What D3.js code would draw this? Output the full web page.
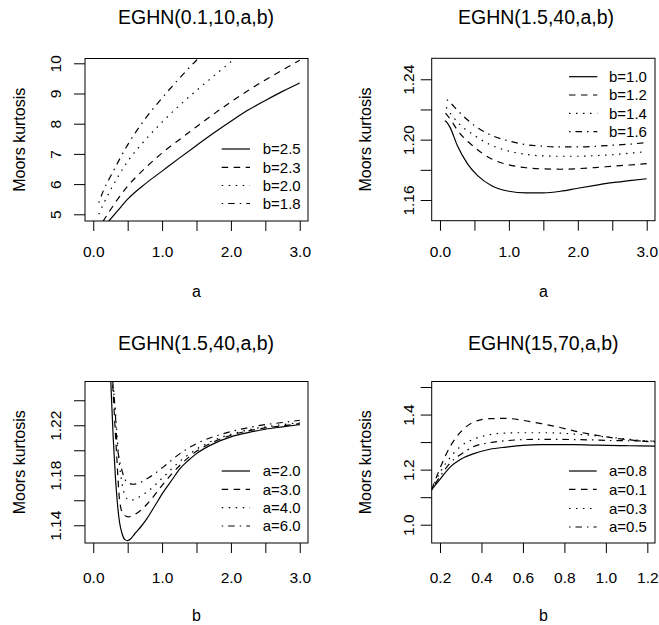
<!DOCTYPE html>
<html>
<head>
<meta charset="utf-8">
<script src="https://cdn.jsdelivr.net/npm/d3@7"></script>
<style>
body { margin: 0; background: #fff; }
svg { display: block; font-family: "Liberation Sans", Arial, Helvetica, sans-serif; }
</style>
</head>
<body>
<svg id="chart" width="659" height="625"></svg>
<script>
// ---- panel 1: EGHN(0.1,10,a,b), kurtosis vs a ----
const p1Legend = ["b=2.5", "b=2.3", "b=2.0", "b=1.8"];
const p1A_b25 = [0.22, 0.3, 0.4, 0.5, 0.75, 1.0, 1.25, 1.5, 1.75, 2.0, 2.25, 2.5, 2.75, 3.0];
const p1K_b25 = [4.76, 4.97, 5.24, 5.5, 6.0, 6.43, 6.86, 7.28, 7.69, 8.08, 8.45, 8.77, 9.07, 9.35];
const p1A_b23 = [0.14, 0.25, 0.5, 0.75, 1.0, 1.25, 1.5, 1.75, 2.0, 2.25, 2.5, 2.75, 3.0];
const p1K_b23 = [4.76, 5.15, 5.93, 6.52, 7.03, 7.47, 7.9, 8.32, 8.72, 9.1, 9.45, 9.78, 10.1];
const p1A_b20 = [0.08, 0.15, 0.25, 0.5, 0.75, 1.0, 1.25, 1.5, 1.75, 2.0, 2.1];
const p1K_b20 = [5.0, 5.35, 5.8, 6.75, 7.45, 8.05, 8.6, 9.1, 9.58, 10.05, 10.25];
const p1A_b18 = [0.08, 0.15, 0.25, 0.5, 0.75, 1.0, 1.25, 1.5, 1.6];
const p1K_b18 = [5.38, 5.8, 6.25, 7.3, 8.15, 8.85, 9.5, 10.1, 10.32];
const p1XTicks = [0, 0.5, 1, 1.5, 2, 2.5, 3];
const p1XTickLabels = ["0.0", "", "1.0", "", "2.0", "", "3.0"];
const p1YTicks = [5, 6, 7, 8, 9, 10];
const p1YTickLabels = ["5", "6", "7", "8", "9", "10"];

// ---- panel 2: EGHN(1.5,40,a,b), kurtosis vs a ----
const p2Legend = ["b=1.0", "b=1.2", "b=1.4", "b=1.6"];
const p2A_b10 = [0.07, 0.1, 0.15, 0.25, 0.4, 0.55, 0.75, 1.0, 1.25, 1.5, 1.75, 2.0, 2.25, 2.5, 2.75, 3.0];
const p2K_b10 = [1.2125, 1.2115, 1.2078, 1.1963, 1.184, 1.176, 1.1695, 1.1658, 1.1648, 1.1648, 1.1658, 1.1678, 1.1697, 1.1715, 1.1728, 1.1741];
const p2A_b12 = [0.08, 0.15, 0.25, 0.5, 0.75, 1.0, 1.25, 1.5, 1.75, 2.0, 2.25, 2.5, 2.75, 3.0];
const p2K_b12 = [1.2175, 1.2135, 1.2065, 1.195, 1.1872, 1.1833, 1.1814, 1.1806, 1.1804, 1.1808, 1.1815, 1.1824, 1.1832, 1.1841];
const p2A_b14 = [0.09, 0.15, 0.25, 0.5, 0.75, 1.0, 1.25, 1.5, 1.75, 2.0, 2.25, 2.5, 2.75, 3.0];
const p2K_b14 = [1.2215, 1.2175, 1.2118, 1.2028, 1.1962, 1.1924, 1.1902, 1.1892, 1.189, 1.189, 1.1894, 1.19, 1.191, 1.1921];
const p2A_b16 = [0.1, 0.15, 0.25, 0.5, 0.75, 1.0, 1.25, 1.5, 1.75, 2.0, 2.25, 2.5, 2.75, 3.0];
const p2K_b16 = [1.2265, 1.2245, 1.2196, 1.2094, 1.2028, 1.1991, 1.1967, 1.1956, 1.1952, 1.1952, 1.1956, 1.1963, 1.197, 1.1981];
const p2XTicks = [0, 0.5, 1, 1.5, 2, 2.5, 3];
const p2XTickLabels = ["0.0", "", "1.0", "", "2.0", "", "3.0"];
const p2YTicks = [1.16, 1.18, 1.20, 1.22, 1.24];
const p2YTickLabels = ["1.16", "", "1.20", "", "1.24"];

// ---- panel 3: EGHN(1.5,40,a,b), kurtosis vs b ----
const p3Legend = ["a=2.0", "a=3.0", "a=4.0", "a=6.0"];
const p3B_a2 = [0.25, 0.27, 0.29, 0.32, 0.35, 0.38, 0.42, 0.46, 0.5, 0.55, 0.6, 0.68, 0.78, 0.9, 1.02, 1.14, 1.26, 1.38, 1.5, 1.75, 2.0, 2.25, 2.5, 2.75, 3.0];
const p3K_a2 = [1.262, 1.235, 1.21, 1.18, 1.158, 1.143, 1.133, 1.1285, 1.1277, 1.1295, 1.133, 1.138, 1.1453, 1.156, 1.1667, 1.176, 1.1853, 1.1918, 1.1973, 1.2053, 1.2107, 1.2141, 1.2168, 1.2187, 1.2205];
const p3B_a3 = [0.27, 0.29, 0.31, 0.34, 0.38, 0.43, 0.51, 0.6, 0.7, 0.8, 1.02, 1.26, 1.5, 1.75, 2.0, 2.25, 2.5, 2.75, 3.0];
const p3K_a3 = [1.262, 1.245, 1.225, 1.196, 1.1613, 1.1493, 1.1467, 1.1485, 1.1525, 1.158, 1.1733, 1.188, 1.1992, 1.2067, 1.212, 1.2155, 1.2179, 1.2195, 1.2213];
const p3B_a4 = [0.27, 0.3, 0.33, 0.35, 0.37, 0.4, 0.43, 0.46, 0.53, 0.62, 0.7, 0.8, 1.02, 1.26, 1.5, 1.75, 2.0, 2.25, 2.5, 2.75, 3.0];
const p3K_a4 = [1.262, 1.245, 1.225, 1.209, 1.194, 1.18, 1.17, 1.164, 1.16, 1.1612, 1.1638, 1.1675, 1.1787, 1.1912, 1.2008, 1.208, 1.2128, 1.2163, 1.2187, 1.2205, 1.2221];
const p3B_a6 = [0.27, 0.3, 0.32, 0.34, 0.37, 0.41, 0.45, 0.485, 0.58, 0.7, 0.825, 1.02, 1.26, 1.5, 1.75, 2.0, 2.25, 2.5, 2.75, 3.0];
const p3K_a6 = [1.262, 1.245, 1.23, 1.209, 1.195, 1.1853, 1.178, 1.1747, 1.1728, 1.1747, 1.1787, 1.1867, 1.1973, 1.2053, 1.2109, 1.2149, 1.2181, 1.2205, 1.2222, 1.224];
const p3XTicks = [0, 0.5, 1, 1.5, 2, 2.5, 3];
const p3XTickLabels = ["0.0", "", "1.0", "", "2.0", "", "3.0"];
const p3YTicks = [1.14, 1.16, 1.18, 1.20, 1.22, 1.24];
const p3YTickLabels = ["1.14", "", "1.18", "", "1.22", ""];

// ---- panel 4: EGHN(15,70,a,b), kurtosis vs b ----
const p4Legend = ["a=0.8", "a=0.1", "a=0.3", "a=0.5"];
const p4B = [0.16, 0.2, 0.25, 0.3, 0.36, 0.44, 0.52, 0.6, 0.69, 0.77, 0.85, 0.93, 1.01, 1.09, 1.17, 1.24];
const p4K_a08 = [1.128, 1.165, 1.21, 1.238, 1.257, 1.274, 1.282, 1.288, 1.2906, 1.2906, 1.2906, 1.2893, 1.288, 1.287, 1.286, 1.2855];
const p4K_a01 = [1.128, 1.205, 1.285, 1.337, 1.372, 1.385, 1.386, 1.379, 1.3668, 1.3547, 1.34, 1.328, 1.318, 1.31, 1.304, 1.30];
const p4K_a03 = [1.128, 1.19, 1.245, 1.285, 1.31, 1.327, 1.333, 1.334, 1.334, 1.333, 1.329, 1.3245, 1.318, 1.312, 1.306, 1.303];
const p4K_a05 = [1.128, 1.175, 1.225, 1.255, 1.283, 1.298, 1.305, 1.309, 1.31, 1.31, 1.309, 1.308, 1.306, 1.305, 1.304, 1.303];
const p4XTicks = [0.2, 0.4, 0.6, 0.8, 1.0, 1.2];
const p4XTickLabels = ["0.2", "0.4", "0.6", "0.8", "1.0", "1.2"];
const p4YTicks = [1.0, 1.1, 1.2, 1.3, 1.4, 1.5];
const p4YTickLabels = ["1.0", "", "1.2", "", "1.4", ""];

const yTitle = "Moors kurtosis";
const dashes = [null, "6.5,5.5", "1.5,5.5", "1.5,5,6.5,5"];

const panels = [
  { id: 1, title: "EGHN(0.1,10,a,b)", titleX: 196, titleY: 24, xTitle: "a",
    box: [85, 58.5, 308, 221], xDom: [-0.12, 3.12], yDom: [4.778, 10.159],
    xTicks: p1XTicks, xLabels: p1XTickLabels, yTicks: p1YTicks, yLabels: p1YTickLabels,
    xLabY: 257, xTitleY: 296.5, yLabX: 60.5, yTitleX: 25,
    legend: p1Legend, legX: [221.7, 250, 262.7], legY: [149, 167.3, 185.5, 203.5],
    series: [[p1A_b25, p1K_b25], [p1A_b23, p1K_b23], [p1A_b20, p1K_b20], [p1A_b18, p1K_b18]] },
  { id: 2, title: "EGHN(1.5,40,a,b)", titleX: 536, titleY: 24, xTitle: "a",
    box: [431.7, 58.3, 655, 220.7], xDom: [-0.12, 3.12], yDom: [1.1463, 1.2539],
    xTicks: p2XTicks, xLabels: p2XTickLabels, yTicks: p2YTicks, yLabels: p2YTickLabels,
    xLabY: 256.7, xTitleY: 296.5, yLabX: 413.5, yTitleX: 370.5,
    legend: p2Legend, legX: [569, 597.3, 609], legY: [76.7, 95, 113.3, 131.6],
    series: [[p2A_b10, p2K_b10], [p2A_b12, p2K_b12], [p2A_b14, p2K_b14], [p2A_b16, p2K_b16]] },
  { id: 3, title: "EGHN(1.5,40,a,b)", titleX: 196, titleY: 350, xTitle: "b",
    box: [85, 381.5, 308, 543], xDom: [-0.12, 3.12], yDom: [1.1258, 1.255],
    xTicks: p3XTicks, xLabels: p3XTickLabels, yTicks: p3YTicks, yLabels: p3YTickLabels,
    xLabY: 582.5, xTitleY: 620.5, yLabX: 60.5, yTitleX: 25,
    legend: p3Legend, legX: [221.7, 250, 262.7], legY: [471, 489.3, 507.7, 526],
    series: [[p3B_a2, p3K_a2], [p3B_a3, p3K_a3], [p3B_a4, p3K_a4], [p3B_a6, p3K_a6]] },
  { id: 4, title: "EGHN(15,70,a,b)", titleX: 543.3, titleY: 350, xTitle: "b",
    box: [431.7, 381.5, 655, 543], xDom: [0.16, 1.237], yDom: [0.9336, 1.52],
    xTicks: p4XTicks, xLabels: p4XTickLabels, yTicks: p4YTicks, yLabels: p4YTickLabels,
    xLabY: 582.5, xTitleY: 620.5, yLabX: 413.5, yTitleX: 370.5,
    legend: p4Legend, legX: [569, 596.7, 609], legY: [471, 489.3, 508.5, 527],
    series: [[p4B, p4K_a08], [p4B, p4K_a01], [p4B, p4K_a03], [p4B, p4K_a05]] }
];

const svg = d3.select("#chart");
const defs = svg.append("defs");

panels.forEach(function(p) {
  const [x0, y0, x1, y1] = p.box;
  const x = d3.scaleLinear().domain(p.xDom).range([x0, x1]);
  const y = d3.scaleLinear().domain(p.yDom).range([y1, y0]);
  const g = svg.append("g");

  defs.append("clipPath").attr("id", "clip" + p.id)
    .append("rect").attr("x", x0).attr("y", y0).attr("width", x1 - x0).attr("height", y1 - y0);

  // curves
  const line = d3.line().x(d => x(d[0])).y(d => y(d[1])).curve(d3.curveMonotoneX);
  g.append("g").attr("clip-path", "url(#clip" + p.id + ")")
    .selectAll("path").data(p.series).join("path")
    .attr("d", s => line(d3.zip(s[0], s[1])))
    .attr("fill", "none").attr("stroke", "#000").attr("stroke-width", 1.2)
    .attr("stroke-dasharray", (s, i) => dashes[i]);

  // box
  g.append("rect").attr("x", x0).attr("y", y0).attr("width", x1 - x0).attr("height", y1 - y0)
    .attr("fill", "none").attr("stroke", "#000").attr("stroke-width", 1);

  // x axis
  const xa = g.append("g").attr("transform", "translate(0," + y1 + ")")
    .call(d3.axisBottom(x).tickValues(p.xTicks).tickSize(10)
      .tickFormat((d, i) => p.xLabels[i]));
  xa.select(".domain").remove();
  xa.selectAll("line").attr("stroke", "#000");
  xa.selectAll("text").attr("y", p.xLabY - y1).attr("dy", null)
    .attr("font-size", "15.5px").attr("font-family", null).attr("fill", "#000");

  // y axis, labels parallel to the axis
  const ya = g.append("g").attr("transform", "translate(" + x0 + ",0)")
    .call(d3.axisLeft(y).tickValues(p.yTicks).tickSize(11)
      .tickFormat((d, i) => p.yLabels[i]));
  ya.select(".domain").remove();
  ya.selectAll("line").attr("stroke", "#000");
  ya.selectAll("text").attr("x", null).attr("dy", null)
    .attr("text-anchor", "middle")
    .attr("transform", "translate(" + (p.yLabX - x0) + ",0) rotate(-90)")
    .attr("font-size", "15.5px").attr("font-family", null).attr("fill", "#000");

  // titles
  g.append("text").attr("x", p.titleX).attr("y", p.titleY)
    .attr("text-anchor", "middle").attr("font-size", "19.5px").text(p.title);
  g.append("text").attr("x", (x0 + x1) / 2).attr("y", p.xTitleY)
    .attr("text-anchor", "middle").attr("font-size", "16px").text(p.xTitle);
  g.append("text")
    .attr("transform", "translate(" + p.yTitleX + "," + ((y0 + y1) / 2) + ") rotate(-90)")
    .attr("text-anchor", "middle").attr("font-size", "16px").text(yTitle);

  // legend
  const leg = g.selectAll(".leg").data(p.legend).join("g")
    .attr("transform", (d, i) => "translate(0," + p.legY[i] + ")");
  leg.append("line").attr("x1", p.legX[0]).attr("x2", p.legX[1])
    .attr("stroke", "#000").attr("stroke-width", 1.2)
    .attr("stroke-dasharray", (d, i) => dashes[i]);
  leg.append("text").attr("x", p.legX[2]).attr("y", 5.4)
    .attr("font-size", "15px").text(d => d);
});
</script>
</body>
</html>
